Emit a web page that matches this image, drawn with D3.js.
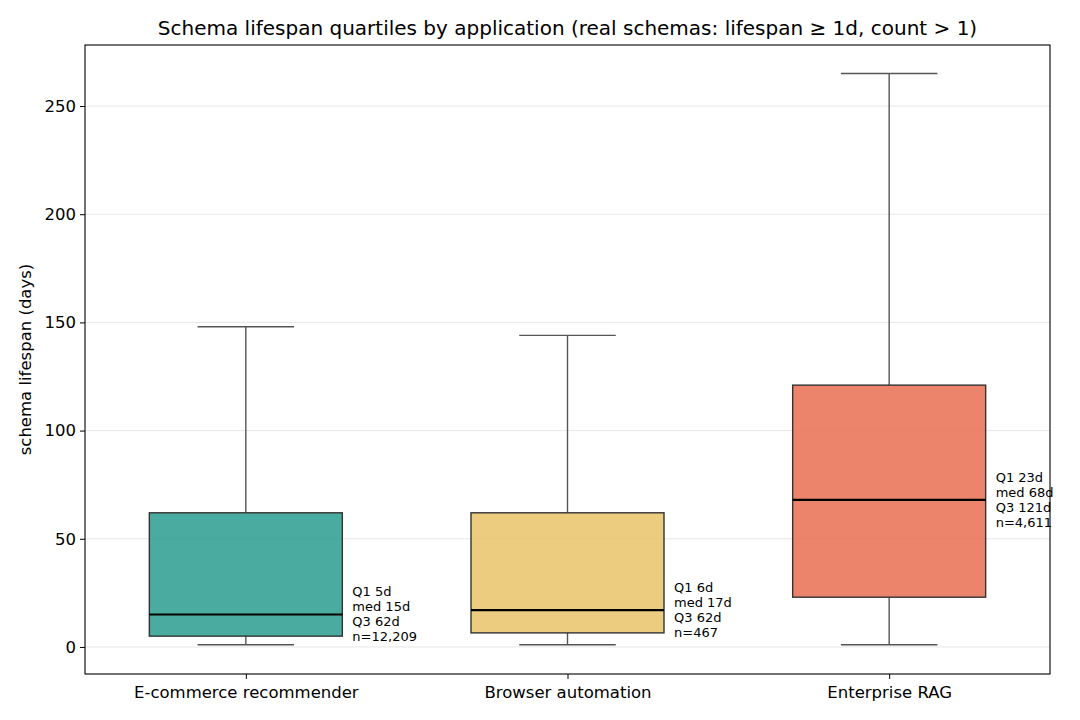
<!DOCTYPE html>
<html>
<head>
<meta charset="utf-8">
<script src="https://cdn.jsdelivr.net/npm/d3@7"></script>
<style>
  body { margin: 0; background: #fff; }
  text { font-family: "DejaVu Sans", sans-serif; }
</style>
</head>
<body>
<div id="chart"></div>
<script>
const apps = ["E-commerce recommender", "Browser automation", "Enterprise RAG"];
const q1 = [5, 6.5, 23];
const med = [15, 17, 68];
const q3 = [62, 62, 121];
const whiskLo = [1, 1, 1];
const whiskHi = [148, 144, 265];
const counts = ["12,209", "467", "4,611"];
const labQ1 = [5, 6, 23];
const labMed = [15, 17, 68];
const labQ3 = [62, 62, 121];
const yTicks = [0, 50, 100, 150, 200, 250];
const colors = ["#2a9d8f", "#e9c46a", "#e76f51"];

let width = 1080, height = 720;
const m = {left: 85, right: 30, top: 45, bottom: 46};

const svg = d3.select("#chart").append("svg")
    .attr("width", width).attr("height", height);

const x = d3.scaleLinear().domain([-0.5, 2.5]).range([m.left, width - m.right]);
const y = d3.scaleLinear().domain([-12.5, 278.2]).range([height - m.bottom, m.top]);

// grid
svg.append("g").selectAll("line").data(yTicks).enter().append("line")
    .attr("x1", m.left).attr("x2", width - m.right)
    .attr("y1", d => y(d)).attr("y2", d => y(d))
    .attr("stroke", "#e6e6e6").attr("stroke-width", 1);

const bw = 0.6, cw = 0.3;
const g = svg.append("g");
apps.forEach((a, i) => {
    const gi = g.append("g");
    // whiskers
    gi.append("line").attr("x1", x(i)).attr("x2", x(i))
        .attr("y1", y(q3[i])).attr("y2", y(whiskHi[i]))
        .attr("stroke", "#555").attr("stroke-width", 1.4);
    gi.append("line").attr("x1", x(i)).attr("x2", x(i))
        .attr("y1", y(q1[i])).attr("y2", y(whiskLo[i]))
        .attr("stroke", "#555").attr("stroke-width", 1.4);
    [whiskLo[i], whiskHi[i]].forEach(v => {
        gi.append("line").attr("x1", x(i - cw / 2)).attr("x2", x(i + cw / 2))
            .attr("y1", y(v)).attr("y2", y(v))
            .attr("stroke", "#555").attr("stroke-width", 1.4);
    });
    // box
    gi.append("rect")
        .attr("x", x(i - bw / 2)).attr("width", x(bw) - x(0))
        .attr("y", y(q3[i])).attr("height", y(q1[i]) - y(q3[i]))
        .attr("fill", colors[i]).attr("fill-opacity", 0.85)
        .attr("stroke", "#333").attr("stroke-width", 1.4);
    gi.append("line").attr("x1", x(i - bw / 2)).attr("x2", x(i + bw / 2))
        .attr("y1", y(med[i])).attr("y2", y(med[i]))
        .attr("stroke", "#000").attr("stroke-width", 2.2);
    // annotation
    const lines = [`Q1 ${labQ1[i]}d`, `med ${labMed[i]}d`, `Q3 ${labQ3[i]}d`, `n=${counts[i]}`];
    const t = gi.append("text")
        .attr("x", x(i + bw / 2) + 10)
        .attr("y", y(med[i]) - 1.5 * 15 + 4.5)
        .attr("font-size", 13).attr("fill", "#000");
    lines.forEach((l, k) => {
        t.append("tspan").attr("x", x(i + bw / 2) + 10).attr("dy", k === 0 ? 0 : 15).text(l);
    });
});

// axes
const yAxis = d3.axisLeft(y).tickValues(yTicks).tickSize(5).tickPadding(4);
const ya = svg.append("g").attr("transform", `translate(${m.left},0)`).call(yAxis);
ya.select(".domain").remove();
ya.selectAll("text").attr("font-size", 16.5).attr("font-family", "DejaVu Sans").attr("fill", "#000");
ya.selectAll("line").attr("stroke", "#000");

const xAxis = d3.axisBottom(x).tickValues([0, 1, 2]).tickFormat(d => apps[d]).tickSize(5).tickPadding(7);
const xa = svg.append("g").attr("transform", `translate(0,${height - m.bottom})`).call(xAxis);
xa.select(".domain").remove();
xa.selectAll("text").attr("font-size", 16.5).attr("font-family", "DejaVu Sans").attr("fill", "#000");
xa.selectAll("line").attr("stroke", "#000");

// frame
svg.append("rect").attr("x", m.left).attr("y", m.top)
    .attr("width", width - m.right - m.left).attr("height", height - m.bottom - m.top)
    .attr("fill", "none").attr("stroke", "#000").attr("stroke-width", 1.1);

svg.append("text").attr("x", (m.left + width - m.right) / 2).attr("y", 35)
    .attr("text-anchor", "middle").attr("font-size", 20)
    .text("Schema lifespan quartiles by application (real schemas: lifespan \u2265 1d, count > 1)");

svg.append("text")
    .attr("transform", `translate(31,${(m.top + height - m.bottom) / 2}) rotate(-90)`)
    .attr("text-anchor", "middle").attr("font-size", 16.5)
    .text("schema lifespan (days)");
</script>
</body>
</html>
